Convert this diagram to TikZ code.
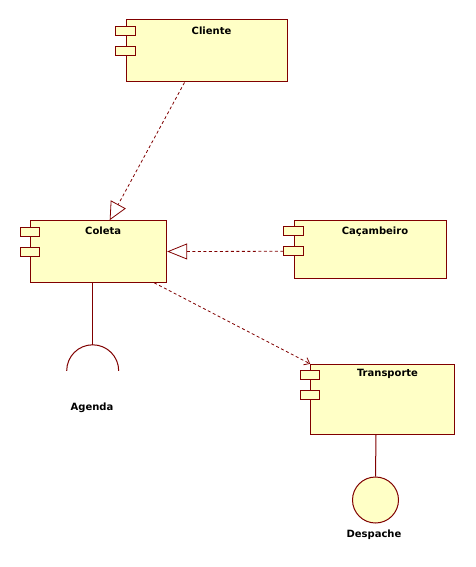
\documentclass[tikz,border=0pt]{standalone}
\usepackage{fontspec}
\setmainfont{DejaVu Sans}
\usetikzlibrary{arrows.meta,calc}
\definecolor{umlborder}{RGB}{128,0,0}
\definecolor{umlfill}{RGB}{255,255,198}
\begin{document}
\begin{tikzpicture}[x=1pt,y=-1pt,
  comp/.style={draw=umlborder, fill=umlfill, line width=1pt, rectangle, inner sep=0pt},
  port/.style={draw=umlborder, fill=umlfill, line width=1pt, rectangle, minimum width=19.5pt, minimum height=9pt, inner sep=0pt},
  lbl/.style={font=\fontsize{10}{11}\selectfont\bfseries, text=black, inner sep=0pt},
  dep/.style={draw=umlborder, line width=0.8pt, dash pattern=on 3pt off 2.5pt},
  link/.style={draw=umlborder, line width=1pt},
  iface/.style={draw=umlborder, fill=umlfill, line width=1pt, circle, minimum size=46pt, inner sep=0pt}]
\fill[white] (0,0) rectangle (475,567);
\useasboundingbox (0,0) rectangle (475,567);

% components
\node[comp, minimum width=161pt, minimum height=62pt] (cliente) at (206.5,51) {};
\node[comp, minimum width=136pt, minimum height=61.6pt] (coleta) at (98.7,251.5) {};
\node[comp, minimum width=152pt, minimum height=58pt] (cacamb) at (370,249.2) {};
\node[comp, minimum width=143.6pt, minimum height=69.7pt] (transp) at (382.5,399.2) {};

% ports
\foreach \c in {cliente,coleta,cacamb,transp}{
  \node[port] (\c-p1) at ($(\c.north west)+(0,11.6)$) {};
  \node[port] (\c-p2) at ($(\c.north west)+(0,31.6)$) {};
}

% labels
\node[lbl] (cliente-l) at ($(cliente.north)+(5,11)$) {Cliente};
\node[lbl] (coleta-l) at ($(coleta.north)+(4.5,11)$) {Coleta};
\node[lbl] (cacamb-l) at ($(cacamb.north)+(5,11.5)$) {Caçambeiro};
\node[lbl] (transp-l) at ($(transp.north)+(5,10.5)$) {Transporte};

% dependencies
\coordinate (cl-out) at ($(cliente.south west)+(59,0)$);
\coordinate (co-in) at ($(coleta.north)+(11,0)$);
\draw[dep, -{Triangle[open, length=18pt, width=17pt, fill=white]}] (cl-out) -- (co-in);
\draw[dep, -{Triangle[open, length=20pt, width=16pt, fill=white]}] (cacamb-p2.west) -- (coleta.east);
\coordinate (co-out) at ($(coleta.south east)+(-13,0)$);
\draw[dep, -{Straight Barb[length=5pt, width=8pt]}] (co-out) -- (transp.north west);

% interfaces
\coordinate (co-stem) at ($(coleta.south west)+(62.5,0)$);
\coordinate (agenda-top) at ($(co-stem)+(0,62)$);
\draw[link] (co-stem) -- (agenda-top);
\draw[link] ($(agenda-top)+(-26,26)$) arc[start angle=180, end angle=360, radius=26];
\node[lbl] (agenda) at (92,408) {Agenda};

\node[iface] (despache) at (375.5,500) {};
\draw[link] ($(transp.south)+(-6.5,0)$) -- (despache.north);
\node[lbl] (despache-l) at (374,535) {Despache};
\end{tikzpicture}
\end{document}
